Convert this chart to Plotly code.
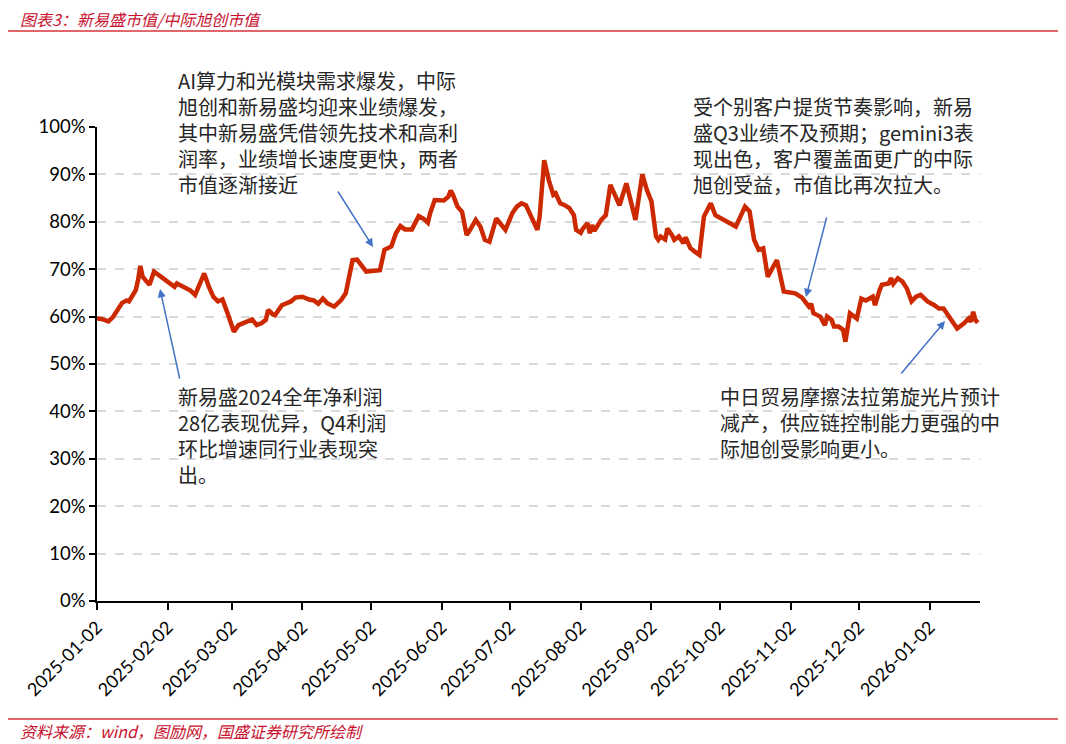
import plotly.graph_objects as go

# ---------------- data ----------------
dates = [
    "2025-01-02", "2025-01-04", "2025-01-07", "2025-01-09", "2025-01-13", "2025-01-15", "2025-01-16",
    "2025-01-19", "2025-01-20", "2025-01-21", "2025-01-22", "2025-01-25", "2025-01-27", "2025-01-30",
    "2025-02-02", "2025-02-05", "2025-02-06", "2025-02-09", "2025-02-12", "2025-02-14", "2025-02-16",
    "2025-02-18", "2025-02-20", "2025-02-22", "2025-02-24", "2025-02-26", "2025-02-28",
    "2025-03-02", "2025-03-03", "2025-03-05", "2025-03-07", "2025-03-11", "2025-03-13", "2025-03-15",
    "2025-03-17", "2025-03-18", "2025-03-20", "2025-03-21", "2025-03-24", "2025-03-26", "2025-03-28",
    "2025-03-30",
    "2025-04-02", "2025-04-05", "2025-04-07", "2025-04-09", "2025-04-11", "2025-04-13", "2025-04-16",
    "2025-04-19", "2025-04-21", "2025-04-24", "2025-04-26", "2025-04-30",
    "2025-05-06", "2025-05-08", "2025-05-11", "2025-05-13", "2025-05-15", "2025-05-17", "2025-05-20",
    "2025-05-23", "2025-05-25", "2025-05-27", "2025-05-28", "2025-05-30",
    "2025-06-01", "2025-06-03", "2025-06-05", "2025-06-06", "2025-06-07", "2025-06-09", "2025-06-11",
    "2025-06-13", "2025-06-14", "2025-06-17", "2025-06-19", "2025-06-21", "2025-06-23", "2025-06-26",
    "2025-06-30",
    "2025-07-03", "2025-07-05", "2025-07-07", "2025-07-09", "2025-07-11", "2025-07-14", "2025-07-15",
    "2025-07-17", "2025-07-19", "2025-07-21", "2025-07-22", "2025-07-24", "2025-07-26", "2025-07-28",
    "2025-07-30", "2025-07-31",
    "2025-08-02", "2025-08-03", "2025-08-05", "2025-08-06", "2025-08-07", "2025-08-08", "2025-08-11",
    "2025-08-13", "2025-08-15", "2025-08-17", "2025-08-19", "2025-08-22", "2025-08-24", "2025-08-26",
    "2025-08-29", "2025-08-31",
    "2025-09-02", "2025-09-04", "2025-09-05", "2025-09-06", "2025-09-08", "2025-09-09", "2025-09-11",
    "2025-09-12", "2025-09-14", "2025-09-16", "2025-09-17", "2025-09-19", "2025-09-21", "2025-09-23",
    "2025-09-25", "2025-09-28", "2025-09-30",
    "2025-10-04", "2025-10-09", "2025-10-13", "2025-10-15", "2025-10-17", "2025-10-19", "2025-10-21",
    "2025-10-23", "2025-10-25", "2025-10-27", "2025-10-30",
    "2025-11-01", "2025-11-04", "2025-11-07", "2025-11-10", "2025-11-11", "2025-11-12", "2025-11-15",
    "2025-11-17", "2025-11-18", "2025-11-20", "2025-11-21", "2025-11-23", "2025-11-25", "2025-11-26",
    "2025-11-28",
    "2025-12-01", "2025-12-03", "2025-12-05", "2025-12-08", "2025-12-09", "2025-12-11", "2025-12-12",
    "2025-12-15", "2025-12-16", "2025-12-17", "2025-12-19", "2025-12-21", "2025-12-23", "2025-12-25",
    "2025-12-27", "2025-12-29",
    "2026-01-01", "2026-01-04", "2026-01-06", "2026-01-08", "2026-01-11", "2026-01-14", "2026-01-17",
    "2026-01-19", "2026-01-20", "2026-01-21", "2026-01-22", "2026-01-23",
]

ratio_pct = [
    59.6, 59.5, 59.0, 59.9, 62.9, 63.4, 63.2,
    65.6, 67.7, 70.7, 68.4, 66.7, 69.5, 68.4,
    67.4, 66.3, 67.0, 66.3, 65.5, 64.6, 67.0,
    69.1, 66.3, 64.2, 63.2, 63.6, 61.0,
    57.9, 56.8, 58.2, 58.6, 59.4, 58.2, 58.6,
    59.3, 61.4, 60.5, 60.3, 62.4, 62.8, 63.2,
    64.0,
    64.2, 63.6, 63.4, 62.7, 63.8, 62.8, 62.1,
    63.5, 64.9, 71.9, 72.0, 69.5,
    69.8, 74.1, 74.8, 77.6, 79.1, 78.4, 78.4,
    81.2, 80.7, 79.8, 81.8, 84.6,
    84.6, 84.5, 85.3, 86.6, 85.7, 83.2, 82.1,
    77.2, 77.9, 80.4, 79.0, 76.2, 75.8, 80.7,
    78.3,
    81.8, 83.2, 83.9, 83.5, 81.4, 78.3, 81.1,
    93.0, 88.8, 85.7, 86.0, 83.9, 83.5, 82.9,
    81.4, 78.3,
    77.7, 78.6, 79.7, 77.6, 79.3, 78.1, 80.4,
    81.4, 87.8, 85.7, 83.5, 88.1, 83.9, 80.4,
    90.0, 86.7,
    84.3, 76.9, 76.2, 76.9, 76.3, 78.6, 77.2,
    76.2, 76.9, 75.5, 76.7, 74.5, 73.7, 73.0,
    81.1, 83.9, 81.4,
    80.4, 79.0, 83.2, 82.2, 76.2, 74.1, 74.4,
    68.4, 70.2, 71.9, 65.3,
    65.1, 64.9, 64.0, 62.1, 62.7, 60.7, 60.0,
    58.2, 60.0, 59.3, 57.9, 57.9, 57.2, 54.7,
    60.7,
    59.6, 63.8, 63.4, 64.2, 62.4, 65.6, 66.7,
    67.0, 68.1, 66.9, 68.1, 67.4, 65.9, 63.2,
    64.2, 64.6,
    63.2, 62.4, 61.7, 61.7, 59.6, 57.5, 58.6,
    59.6, 58.9, 61.0, 59.3, 58.7,
]

tick_dates = [
    "2025-01-02", "2025-02-02", "2025-03-02", "2025-04-02", "2025-05-02", "2025-06-02", "2025-07-02",
    "2025-08-02", "2025-09-02", "2025-10-02", "2025-11-02", "2025-12-02", "2026-01-02",
]
tick_labels = list(tick_dates)

y_ticks = [0, 10, 20, 30, 40, 50, 60, 70, 80, 90, 100]
y_tick_labels = ["0%", "10%", "20%", "30%", "40%", "50%", "60%", "70%", "80%", "90%", "100%"]

title_text = "图表3：新易盛市值/中际旭创市值"
source_text = "资料来源：wind，图励网，国盛证券研究所绘制"

note_top_left = [
    "AI算力和光模块需求爆发，中际",
    "旭创和新易盛均迎来业绩爆发，",
    "其中新易盛凭借领先技术和高利",
    "润率，业绩增长速度更快，两者",
    "市值逐渐接近",
]
note_top_right = [
    "受个别客户提货节奏影响，新易",
    "盛Q3业绩不及预期；gemini3表",
    "现出色，客户覆盖面更广的中际",
    "旭创受益，市值比再次拉大。",
]
note_bottom_left = [
    "新易盛2024全年净利润",
    "28亿表现优异，Q4利润",
    "环比增速同行业表现突",
    "出。",
]
note_bottom_right = [
    "中日贸易摩擦法拉第旋光片预计",
    "减产，供应链控制能力更强的中",
    "际旭创受影响更小。",
]

# ---------------- layout geometry (page pixels; page body has an 8px margin) ----------------
PAGE_W, PAGE_H = 1066, 744
OFF = 8
W, H = PAGE_W - OFF, PAGE_H - OFF
PLOT_L, PLOT_R, PLOT_T, PLOT_B = 97, 980, 127, 601   # page coords of plot area
L, R, T, B = PLOT_L - OFF, PAGE_W - PLOT_R, PLOT_T - OFF, PAGE_H - PLOT_B
PW, PH = PLOT_R - PLOT_L, PLOT_B - PLOT_T


def px(x):
    return (x - PLOT_L) / PW


def py(y):
    return (PLOT_B - y) / PH


RED_TXT = "#C8102E"
RED_LINE = "#D8343C"
ARROW = "#4472C4"
TXT = "#262626"
CJK = "Noto Sans CJK SC"

fig = go.Figure()
fig.add_trace(go.Scatter(
    x=dates, y=ratio_pct, mode="lines",
    line=dict(color="#CC2900", width=4.5),
    hoverinfo="skip", showlegend=False,
))

annotations = []


def add_block(lines, x0, y_center):
    annotations.append(dict(
        xref="paper", yref="paper", x=px(x0), y=py(y_center),
        xanchor="left", yanchor="middle", align="left", showarrow=False,
        text="<br>".join(lines),
        font=dict(family=CJK, size=20, color=TXT),
    ))


add_block(note_top_left, 176, 133)
add_block(note_top_right, 691, 146)
add_block(note_bottom_left, 176, 435)
add_block(note_bottom_right, 718, 423)


def add_arrow(tail, tip):
    annotations.append(dict(
        xref="paper", yref="paper", x=px(tip[0]), y=py(tip[1]),
        axref="pixel", ayref="pixel", ax=tail[0] - tip[0], ay=tail[1] - tip[1],
        showarrow=True, text="", arrowhead=2, arrowsize=1.1, arrowwidth=1.5,
        arrowcolor=ARROW, standoff=0,
    ))


add_arrow((337, 190), (373, 247))
add_arrow((180, 380), (160, 289))
add_arrow((827, 216), (806, 297))
add_arrow((900, 375), (945, 321))

annotations.append(dict(
    xref="paper", yref="paper", x=px(18), y=py(19), xanchor="left", yanchor="middle",
    showarrow=False, text="<i>" + title_text + "</i>",
    font=dict(family=CJK, size=16, color=RED_TXT),
))
annotations.append(dict(
    xref="paper", yref="paper", x=px(18), y=py(731), xanchor="left", yanchor="middle",
    showarrow=False, text="<i>" + source_text + "</i>",
    font=dict(family=CJK, size=16, color=RED_TXT),
))

shapes = [
    dict(type="line", xref="paper", yref="paper", x0=px(8), x1=px(1061), y0=py(31), y1=py(31),
         line=dict(color=RED_LINE, width=1.5)),
    dict(type="line", xref="paper", yref="paper", x0=px(8), x1=px(1061), y0=py(719), y1=py(719),
         line=dict(color=RED_LINE, width=1.5)),
]

fig.update_layout(
    width=W, height=H,
    margin=dict(l=L, r=R, t=T, b=B, autoexpand=False),
    paper_bgcolor="white", plot_bgcolor="white",
    showlegend=False,
    annotations=annotations, shapes=shapes,
    xaxis=dict(
        type="date", range=["2025-01-02", "2026-01-24"],
        tickmode="array", tickvals=tick_dates, ticktext=tick_labels,
        tickangle=-45, tickfont=dict(family="Lato", size=18, color="black"),
        showline=True, linecolor="black", linewidth=1.5,
        ticks="outside", ticklen=7, tickwidth=1.5, tickcolor="black",
        showgrid=False, zeroline=False, automargin=False,
    ),
    yaxis=dict(
        range=[0, 100], tickmode="array", tickvals=y_ticks, ticktext=y_tick_labels,
        tickfont=dict(family="Lato", size=18.5, color="black"),
        showline=True, linecolor="black", linewidth=1.5,
        ticks="outside", ticklen=6, tickwidth=1.5, tickcolor="black",
        showgrid=True, gridcolor="#D9D9D9", gridwidth=1.5, griddash="dash",
        zeroline=False, automargin=False,
    ),
)

fig.write_html("out.html")
